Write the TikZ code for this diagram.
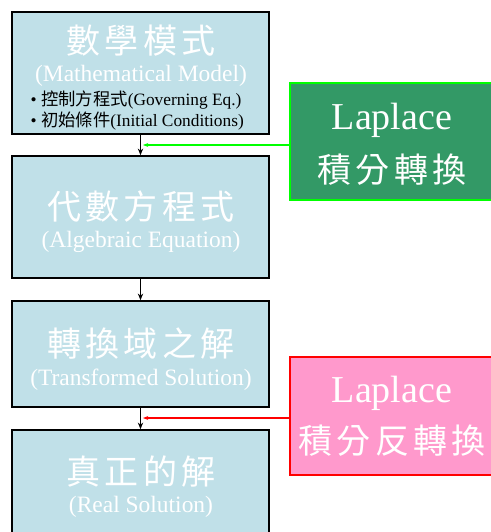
\documentclass[tikz,border=0pt]{standalone}
\usepackage{fontspec}
\setmainfont{Liberation Serif}
\newfontfamily\cjk{Noto Sans CJK TC}
\newfontfamily\cjkwide{Noto Sans CJK TC}[LetterSpace=12]
\usetikzlibrary{arrows.meta}
\definecolor{boxblue}{RGB}{192,224,232}
\definecolor{lapgreen}{RGB}{51,153,102}
\definecolor{lappink}{RGB}{255,153,204}

\begin{document}
\begin{tikzpicture}[
    x=0.75pt,y=-0.75pt,
    box/.style={draw=black,line width=1.2pt,fill=boxblue,rectangle,inner sep=0pt},
    title/.style={text=white,font=\cjkwide\fontsize{25.5}{30}\selectfont},
    sub/.style={text=white,font=\fontsize{17.6}{20}\selectfont},
    item/.style={text=black,anchor=west,font=\fontsize{13}{15}\selectfont},
    lap/.style={text=white,font=\fontsize{28.5}{32}\selectfont},
    line/.style={line width=0.8pt,-{Stealth[length=5pt,width=4pt]}}
    ]
    \useasboundingbox (0,0) rectangle (491,532);
    % left column
    \node[box,minimum width=257*0.75pt,minimum height=122*0.75pt] (model) at (140.5,73) {};
    \node[box,minimum width=257*0.75pt,minimum height=122*0.75pt] (alg) at (140.5,217) {};
    \node[box,minimum width=257*0.75pt,minimum height=106*0.75pt] (trans) at (140.5,354) {};
    \node[box,minimum width=257*0.75pt,minimum height=112*0.75pt] (real) at (140.5,486) {};
    \node[title] (t1) at (141,41) {數學模式};
    \node[sub] (s1) at (141,76) {(Mathematical Model)};
    \node[item] (i1) at (26,100) {\textbullet\ {\cjk 控制方程式}(Governing Eq.)};
    \node[item] (i2) at (26,121) {\textbullet\ {\cjk 初始條件}(Initial Conditions)};
    \node[title] (t2) at (141,207) {代數方程式};
    \node[sub] (s2) at (141,242) {(Algebraic Equation)};
    \node[title] (t3) at (141,344) {轉換域之解};
    \node[sub] (s3) at (141,380) {(Transformed Solution)};
    \node[title] (t4) at (141,472) {真正的解};
    \node[sub] (s4) at (141,507) {(Real Solution)};
    % right boxes
    \node[draw=green,line width=1.2pt,fill=lapgreen,minimum width=210*0.75pt,minimum height=117*0.75pt] (fwd) at (395,141.5) {};
    \node[lap] (l1) at (392,120) {Laplace};
    \node[title] (k1) at (392,170) {積分轉換};
    \node[draw=red,line width=1.2pt,fill=lappink,minimum width=210*0.75pt,minimum height=118*0.75pt] (inv) at (395,416) {};
    \node[lap] (l2) at (392,393) {Laplace};
    \node[title] (k2) at (392,441) {積分反轉換};
    % connectors
    \draw[line] (model) -- (alg);
    \draw[line] (alg) -- (trans);
    \draw[line] (trans) -- (real);
    \coordinate (g) at (143,145);
    \coordinate (r) at (143,418);
    \draw[line,green,line width=1pt,-{Stealth[length=4pt,width=3pt]}] (fwd.west |- g) -- (g);
    \draw[line,red,line width=1pt,-{Stealth[length=4pt,width=3pt]}] (inv.west |- r) -- (r);
\end{tikzpicture}
\end{document}
